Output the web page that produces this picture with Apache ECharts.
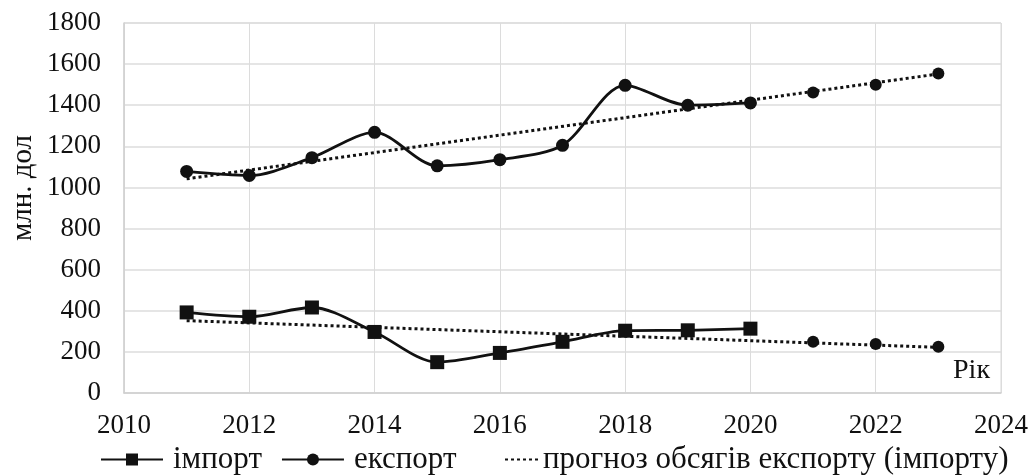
<!DOCTYPE html>
<html>
<head>
<meta charset="utf-8">
<script src="https://cdn.jsdelivr.net/npm/echarts@6/dist/echarts.min.js"></script>
<style>
html,body{margin:0;padding:0;background:#fff;}
#chart{width:1036px;height:476px;}
</style>
</head>
<body>
<div id="chart"></div>
<script>
// ---- data ----
const years = [2011, 2012, 2013, 2014, 2015, 2016, 2017, 2018, 2019, 2020];
const importVals = [392, 371, 416, 297, 150, 195, 249, 303, 305, 313];
const exportVals = [1078, 1058, 1145, 1268, 1105, 1135, 1205, 1497, 1400, 1411];
const forecastYears = [2021, 2022, 2023];
const importForecast = [249, 238, 225];
const exportForecast = [1462, 1500, 1554];
const trendYears = [2011, 2023];
const exportTrend = [1042, 1552];
const importTrend = [352, 222];
const xTicks = [2010, 2012, 2014, 2016, 2018, 2020, 2022, 2024];
const yTicks = [0, 200, 400, 600, 800, 1000, 1200, 1400, 1600, 1800];

const NAME_IMP = 'імпорт';
const NAME_EXP = 'експорт';
const NAME_FC = 'прогноз обсягів експорту (імпорту)';

const pair = (xs, ys) => xs.map((x, i) => [x, ys[i]]);
const FONT = 'Liberation Serif';
const INK = '#111';

const chart = echarts.init(document.getElementById('chart'), null, {renderer: 'canvas'});
chart.setOption({
  animation: false,
  backgroundColor: '#fff',
  textStyle: {fontFamily: FONT},
  grid: {left: 124, right: 35, top: 23, bottom: 83, show: true, borderColor: '#d9d9d9', borderWidth: 1},
  xAxis: {
    type: 'value', min: xTicks[0], max: xTicks[xTicks.length - 1], interval: 2,
    axisLine: {show: true, lineStyle: {color: '#d0d0d0', width: 1.5}},
    axisTick: {show: false},
    splitLine: {show: true, lineStyle: {color: '#dcdcdc', width: 1}},
    axisLabel: {fontFamily: FONT, fontSize: 27, color: INK, margin: 19, formatter: v => String(v)}
  },
  yAxis: {
    type: 'value', min: yTicks[0], max: yTicks[yTicks.length - 1], interval: 200,
    axisLine: {show: true, lineStyle: {color: '#d0d0d0', width: 1.5}},
    axisTick: {show: false},
    splitLine: {show: true, lineStyle: {color: '#dcdcdc', width: 1.5}},
    axisLabel: {fontFamily: FONT, fontSize: 27, color: INK, margin: 23, formatter: v => String(v)}
  },
  legend: [
    {
      data: [NAME_IMP, NAME_EXP],
      left: 95, top: 439, itemWidth: 62, itemHeight: 15, itemGap: 19,
      textStyle: {fontFamily: FONT, fontSize: 31, color: INK, padding: [0, 0, 0, 5]}
    },
    {
      data: [NAME_FC],
      left: 499, top: 439, itemWidth: 33, itemHeight: 15,
      itemStyle: {color: 'rgba(0,0,0,0)', borderWidth: 0, opacity: 0},
      textStyle: {fontFamily: FONT, fontSize: 31, color: INK, padding: [0, 0, 0, 0]}
    }
  ],
  graphic: [
    {type: 'text', x: 23, y: 188, rotation: Math.PI / 2,
     style: {text: 'млн. дол', font: '29px "Liberation Serif"', fill: INK, textAlign: 'center', textVerticalAlign: 'middle'}},
    {type: 'text', x: 990, y: 371,
     style: {text: 'Рік', font: '28px "Liberation Serif"', fill: INK, textAlign: 'right', textVerticalAlign: 'middle'}}
  ],
  series: [
    {
      name: NAME_FC, type: 'line', symbol: 'none', z: 1,
      data: pair(trendYears, exportTrend),
      lineStyle: {color: INK, width: 3, type: [3, 3]}, itemStyle: {color: INK}
    },
    {
      name: NAME_FC, type: 'line', symbol: 'none', z: 1,
      data: pair(trendYears, importTrend),
      lineStyle: {color: INK, width: 3, type: [3, 3]}, itemStyle: {color: INK}
    },
    {
      name: 'forecast-points', type: 'scatter', symbol: 'circle', symbolSize: 12, z: 2,
      data: pair(forecastYears, exportForecast).concat(pair(forecastYears, importForecast)),
      itemStyle: {color: INK, opacity: 1}
    },
    {
      name: NAME_IMP, type: 'line', smooth: 0.3, symbol: 'rect', symbolSize: 14, z: 3,
      data: pair(years, importVals),
      lineStyle: {color: INK, width: 2.8}, itemStyle: {color: INK}
    },
    {
      name: NAME_EXP, type: 'line', smooth: 0.3, symbol: 'circle', symbolSize: 13, z: 3,
      data: pair(years, exportVals),
      lineStyle: {color: INK, width: 2.8}, itemStyle: {color: INK}
    }
  ]
});
</script>
</body>
</html>
